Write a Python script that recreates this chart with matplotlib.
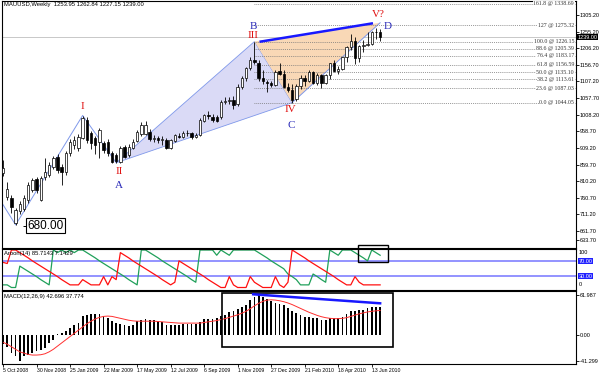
import matplotlib
matplotlib.use('Agg')
import matplotlib.pyplot as plt
import matplotlib.transforms as mtrans
from matplotlib.patches import Polygon, Rectangle

plt.rcParams['font.family'] = ['Liberation Sans', 'DejaVu Sans']

# weekly candles, bar index 0 = 5 Oct 2008
opens = [835, 763, 760, 686, 722, 728, 754, 784, 816, 754,
         823, 829, 852, 882, 852, 837, 894, 918, 909, 939,
         992, 954, 939, 927, 924, 927, 894, 888, 867, 912,
         888, 910, 930, 950, 952, 958, 937, 940, 933, 933,
         910, 930, 946, 943, 955, 953, 942, 948, 990, 1006,
         1002, 1002, 1000, 1047, 1050, 1052, 1040, 1092, 1117, 1146,
         1172, 1163, 1118, 1107, 1104, 1096, 1138, 1130, 1090, 1083,
         1055, 1095, 1117, 1108, 1134, 1102, 1125, 1104, 1126, 1161,
         1137, 1143, 1179, 1210, 1228, 1177, 1212, 1217, 1220, 1256, 1253.95]
highs = [872, 808, 770, 730, 752, 770, 808, 820, 822, 826,
         880, 866, 885, 890, 860, 900, 935, 945, 950, 1005,
         1000, 960, 945, 968, 930, 935, 900, 895, 915, 918,
         920, 935, 962, 985, 988, 965, 948, 945, 944, 938,
         937, 952, 955, 960, 962, 958, 955, 998, 1010, 1020,
         1010, 1008, 1052, 1060, 1060, 1065, 1100, 1122, 1150, 1181,
         1226, 1170, 1140, 1113, 1110, 1140, 1162, 1140, 1102, 1100,
         1100, 1125, 1127, 1140, 1139, 1132, 1128, 1130, 1163, 1170,
         1152, 1180, 1212, 1249, 1240, 1215, 1232, 1254, 1258, 1265, 1262.84]
lows = [825, 754, 715, 680, 712, 720, 745, 778, 776, 750,
        815, 822, 845, 835, 800, 830, 885, 905, 900, 935,
        925, 905, 890, 880, 895, 885, 865, 865, 865, 878,
        882, 906, 926, 945, 948, 930, 928, 925, 918, 905,
        905, 926, 938, 940, 945, 936, 938, 945, 985, 995,
        985, 985, 995, 1040, 1040, 1026, 1034, 1085, 1110, 1140,
        1160, 1110, 1100, 1076, 1090, 1094, 1125, 1088, 1075, 1044,
        1048, 1085, 1095, 1105, 1100, 1098, 1088, 1100, 1115, 1135,
        1130, 1140, 1165, 1202, 1160, 1165, 1195, 1212, 1217, 1233, 1227.15]
closes = [850, 787, 733, 724, 742, 760, 799, 813, 784, 819,
          837, 858, 879, 843, 837, 894, 927, 933, 942, 998,
          933, 924, 918, 963, 903, 894, 867, 870, 909, 882,
          912, 928, 958, 978, 978, 935, 940, 934, 936, 910,
          933, 948, 943, 955, 953, 941, 947, 992, 1006, 1003,
          992, 990, 1047, 1050, 1052, 1038, 1092, 1117, 1146, 1172,
          1165, 1118, 1108, 1104, 1096, 1136, 1130, 1090, 1083, 1052,
          1095, 1117, 1108, 1134, 1102, 1125, 1104, 1126, 1161, 1137,
          1143, 1179, 1210, 1228, 1177, 1212, 1217, 1220, 1256, 1255, 1239.00]

aroon_up = [7, 7, 0, 0, 57, 50, 43, 36, 29, 21,
            14, 7, 100, 93, 100, 93, 100, 93, 100, 100,
            93, 86, 79, 71, 64, 57, 50, 43, 36, 29,
            21, 14, 7, 100, 100, 93, 86, 79, 71, 64,
            57, 50, 43, 36, 29, 21, 14, 100, 100, 100,
            100, 86, 100, 93, 86, 100, 100, 100, 100, 100,
            100, 93, 86, 79, 71, 64, 57, 50, 36, 29,
            21, 7, 7, 7, 36, 29, 21, 14, 100, 93,
            86, 100, 100, 100, 93, 86, 79, 71, 100, 93, 86]
aroon_down = [67, 64, 100, 100, 93, 86, 79, 71, 64, 57,
              50, 43, 36, 29, 21, 14, 7, 7, 7, 21,
              14, 7, 7, 7, 29, 7, 29, 21, 93, 86,
              79, 71, 64, 57, 50, 43, 36, 29, 21, 14,
              7, 14, 71, 64, 57, 50, 43, 36, 29, 21,
              14, 7, 0, 0, 29, 7, 0, 0, 0, 29,
              14, 7, 0, 0, 0, 29, 7, 0, 14, 100,
              93, 86, 79, 71, 64, 57, 50, 43, 36, 29,
              21, 14, 7, 7, 29, 14, 7, 7, 7, 7, 7]

macd_hist = [-14, -19, -29, -34, -41.3, -34, -31.5, -29, -26, -23.5,
             -21, -13, -8, 1, 2.6, 5.2, 10.4, 15.6, 18.3, 28.7,
             31.3, 32.4, 32.9, 32.4, 28.7, 26, 20.9, 18.3, 16.7, 14.6,
             13, 15.6, 20.9, 23.5, 24.5, 23.5, 22.4, 20.9, 19.8, 15.6,
             15.6, 15.6, 15.6, 16.7, 16.7, 16.7, 16.7, 19.8, 24.5, 25,
             25, 26, 28.7, 31.3, 35.5, 37.6, 40.7, 42.8, 47, 54.8,
             59.5, 61.99, 58.4, 56.3, 52.1, 49.5, 48, 45.8, 41.7, 37.6,
             33.9, 30, 28.1, 28.1, 26.5, 25.5, 22.9, 22.9, 25.5, 25.5,
             25.5, 28.1, 31.7, 36.9, 36.9, 38.5, 38.5, 41.1, 43.7, 43.7, 42.7]
macd_signal = [-12, -15, -19, -23, -27, -29, -31, -32, -32, -31.5,
               -30, -27, -23, -18, -13, -8, -3, 2, 7, 12,
               17, 21, 24.5, 27, 28.5, 29, 28.5, 27, 25.5, 24,
               22.5, 21.5, 21, 21, 21, 21, 21, 20.5, 20, 19.5,
               19, 18.5, 18, 18, 18, 18, 18, 18, 19, 20,
               21, 22, 23.5, 25, 27, 29, 31, 33.5, 36.5, 40.5,
               45, 49, 52, 54, 54.5, 54, 53, 51.5, 49.5, 47,
               44, 41, 38, 35, 32.5, 30, 28, 26.5, 25.5, 25,
               25, 25.5, 26.5, 28.5, 30.5, 32.5, 34, 35.5, 36.5, 37.2, 37.8]

date_pos = [0, 8, 16, 24, 32, 40, 48, 56, 64, 72, 80, 88]
date_labels = ['5 Oct 2008', '30 Nov 2008', '25 Jan 2009', '22 Mar 2009',
               '17 May 2009', '12 Jul 2009', '6 Sep 2009', '1 Nov 2009',
               '27 Dec 2009', '21 Feb 2010', '18 Apr 2010', '13 Jun 2010']

price_ticks = [1305.20, 1255.20, 1206.20, 1156.70, 1107.20, 1057.70, 1008.20,
               958.70, 909.20, 859.70, 810.20, 760.70, 711.20, 661.70, 633.70]

# wave points (bar index, price)
zig_x = [-1, 3, 19, 27]
zig_y = [760, 680, 1006, 865]
pt_A = (27, 865)
pt_B = (60, 1226.15)
pt_C = (69, 1044.05)
pt_D = (90, 1282)

fib_pct = ['161.8', '127', '100.0', '88.6', '76.4', '61.8', '50.0', '38.2', '23.6', '0.0']
fib_val = [1338.69, 1275.32, 1226.15, 1205.39, 1183.17, 1156.59, 1135.10, 1113.61, 1087.03, 1044.05]

fig = plt.figure(figsize=(6, 3.75), dpi=100)


def px_axes(x0, y0, x1, y1):
    return fig.add_axes([x0 / 600, 1 - y1 / 375, (x1 - x0) / 600, (y1 - y0) / 375])


ax = px_axes(2, 1, 576, 248)
ax_ar = px_axes(2, 249, 576, 290)
ax_m = px_axes(2, 291, 576, 364)

for a in (ax, ax_ar, ax_m):
    a.set_xlim(-0.25, 136.75)
    a.yaxis.tick_right()
    a.tick_params(axis='y', labelsize=4, length=2, width=0.6, pad=0.6)
    for s in a.spines.values():
        s.set_linewidth(0.8)
ax.set_xticks([])
ax_ar.set_xticks([])

# ---- main price panel ----
ax.set_ylim(611.1, 1346.9)
ax.set_yticks(price_ticks)
ax.set_yticklabels(['%.2f' % v for v in price_ticks])

zig_col = '#7f98ea'
ax.axhline(1239.0, color='#c8c8c8', lw=0.7, zorder=0)
ax.add_patch(Polygon([pt_A, pt_B, pt_C], closed=True, fc='#dadaf6', ec=zig_col, lw=0.6, zorder=1))
ax.add_patch(Polygon([pt_B, pt_C, pt_D], closed=True, fc='#f9d8b6', ec='none', zorder=1))
ax.plot([pt_C[0], pt_D[0]], [pt_C[1], pt_D[1]], color=zig_col, lw=0.7, zorder=2)
ax.plot(zig_x, zig_y, color=zig_col, lw=0.7, zorder=2)

ax.hlines(fib_val, 59.8, 136.75, colors='#777777', linestyles=(0, (1, 1.3)), lw=0.6, zorder=2)
for p, v in zip(fib_pct, fib_val):
    ax.text(136.3, v, '%s @ %.2f' % (p, v), ha='right', va='center', fontsize=4.2,
            family='Liberation Serif', color='#333333', zorder=3,
            bbox=dict(boxstyle='square,pad=0.1', fc='white', ec='none'))

for i in range(len(opens)):
    o, h, l, c = opens[i], highs[i], lows[i], closes[i]
    ax.vlines(i, l, h, color='black', lw=0.6, zorder=4)
    bottom = min(o, c)
    height = abs(c - o)
    if height < 2:
        ax.hlines((o + c) / 2, i - 0.3, i + 0.3, color='black', lw=0.7, zorder=5)
    else:
        ax.bar(i, height, bottom=bottom, width=0.58, color='white' if c >= o else 'black',
               edgecolor='black', lw=0.5, zorder=5)

ax.plot([61.5, 88], [1226, 1280], color='#1818ff', lw=1.8, zorder=6)

red_c = '#e01010'
blue_c = '#2a2ab8'
lab = dict(ha='center', va='center', fontsize=8, family='Liberation Serif', zorder=7)
ax.text(19, 1034, 'I', color=red_c, **lab)
ax.text(27.7, 838, 'II', color=red_c, **lab)
ax.text(27.7, 796, 'A', color=blue_c, **lab)
ax.text(59.7, 1243, 'III', color=red_c, **lab)
ax.text(59.7, 1271, 'B', color=blue_c, **lab)
ax.text(68.5, 1024, 'IV', color=red_c, **lab)
ax.text(68.7, 977, 'C', color=blue_c, **lab)
ax.text(89.6, 1306, 'V?', color=red_c, **lab)
ax.text(91.8, 1271, 'D', color=blue_c, **lab)

ax.hlines(677, 4.8, 5.9, color='black', lw=0.7, zorder=7)
ax.text(10.2, 677, '680.00', ha='center', va='center', fontsize=8.5, zorder=7,
        bbox=dict(boxstyle='square,pad=0.12', fc='white', ec='black', lw=0.8))

ax.text(0.004, 0.984, 'MAUUSD,Weekly  1253.95 1262.84 1227.15 1239.00',
        transform=ax.transAxes, fontsize=4.2, va='center', ha='left')

tr = mtrans.blended_transform_factory(ax.transAxes, ax.transData)
ax.text(1.003, 1239.0, '1239.00', transform=tr, color='white', fontsize=4, va='center',
        ha='left', bbox=dict(boxstyle='square,pad=0.12', fc='black', ec='none'), zorder=8)

# ---- Aroon panel ----
ax_ar.set_ylim(-6.67, 102.67)
ax_ar.set_yticks([])
ax_ar.axhline(70, color='#8080ff', lw=1.2)
ax_ar.axhline(30, color='#8080ff', lw=1.2)
bars = list(range(len(aroon_up)))
ax_ar.plot(bars, aroon_up, color='#20a05a', lw=0.9)
ax_ar.plot(bars, aroon_down, color='#ff1010', lw=0.9)
ax_ar.text(0.004, 0.9, 'Aroon(14) 85.7143 7.1429', transform=ax_ar.transAxes,
           fontsize=4.2, va='center', ha='left')
tr2 = mtrans.blended_transform_factory(ax_ar.transAxes, ax_ar.transData)
ax_ar.text(1.004, 100, '100', transform=tr2, fontsize=4, va='top', ha='left')
ax_ar.text(1.004, 0, '0', transform=tr2, fontsize=4, va='bottom', ha='left')
for lv in (70, 30):
    ax_ar.text(1.004, lv, '%.2f' % lv, transform=tr2, fontsize=4, va='center', ha='left',
               color='white', bbox=dict(boxstyle='square,pad=0.12', fc='#2020ff', ec='none'))
ax_ar.add_patch(Rectangle((84.6, 67.6), 7.2, 46, fill=False, ec='black', lw=1.0,
                          clip_on=False, zorder=9))

# ---- MACD panel ----
ax_m.set_ylim(-46.0, 68.25)
ax_m.bar(range(len(macd_hist)), macd_hist, width=0.42, color='black')
ax_m.plot(range(len(macd_signal)), macd_signal, color='#ff3030', lw=0.7)
ax_m.set_yticks([61.987, 0, -41.299])
ax_m.set_yticklabels(['61.987', '0.00', '-41.299'])
ax_m.set_xticks(date_pos)
ax_m.set_xticklabels(date_labels, ha='left')
ax_m.tick_params(axis='x', labelsize=3.7, length=2, width=0.6, pad=1)
ax_m.text(0.004, 0.918, 'MACD(12,26,9) 42.696 37.774', transform=ax_m.transAxes,
          fontsize=4.2, va='center', ha='left')
ax_m.add_patch(Rectangle((52.2, -19.9), 40.8, 84.55, fill=False, ec='black', lw=1.2, zorder=5))
ax_m.plot([59.7, 90], [63.1, 49.0], color='#1818ff', lw=1.8, zorder=6)

fig.savefig('out.png', dpi=100, facecolor='white')
